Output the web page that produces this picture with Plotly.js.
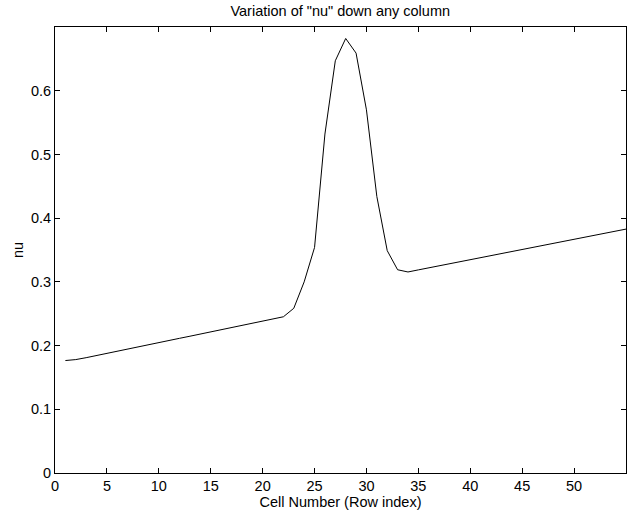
<!DOCTYPE html>
<html>
<head>
<meta charset="utf-8">
<script src="https://cdn.plot.ly/plotly-3.0.1.min.js"></script>
<style>html,body{margin:0;padding:0;background:#fff;}#chart{width:627px;height:516px;}</style>
</head>
<body>
<div id="chart"></div>
<script>
const cellNumber = [1,2,3,4,5,6,7,8,9,10,11,12,13,14,15,16,17,18,19,20,21,22,23,24,25,26,27,28,29,30,31,32,33,34,35,36,37,38,39,40,41,42,43,44,45,46,47,48,49,50,51,52,53,54,55];
const nuValues = [0.1765,0.178,0.181,0.1845,0.188,0.1913,0.1947,0.198,0.2013,0.2047,0.208,0.2114,0.2147,0.218,0.2214,0.2247,0.228,0.2314,0.2347,0.238,0.2415,0.2452,0.2585,0.300,0.354,0.532,0.647,0.682,0.659,0.570,0.434,0.349,0.319,0.3155,0.3188,0.322,0.3253,0.3285,0.3318,0.335,0.3383,0.3415,0.3448,0.348,0.3512,0.3544,0.3576,0.3608,0.364,0.3672,0.3704,0.3736,0.3767,0.3798,0.3828];
const xTicks = [0,5,10,15,20,25,30,35,40,45,50];
const yTicks = [0,0.1,0.2,0.3,0.4,0.5,0.6];
const yTickText = ['0','0.1','0.2','0.3','0.4','0.5','0.6'];

const font = {family: 'Liberation Sans, Arial, Helvetica, sans-serif', size: 14.5, color: '#000'};

Plotly.newPlot('chart', [{
  x: cellNumber, y: nuValues, type: 'scatter', mode: 'lines',
  line: {color: '#000', width: 1}, hoverinfo: 'skip'
}], {
  width: 627, height: 516,
  margin: {l: 55, r: 1, t: 27, b: 43, pad: 0},
  paper_bgcolor: '#fff', plot_bgcolor: '#fff',
  font: font,
  showlegend: false,
  title: {text: 'Variation of "nu" down any column', font: font, x: 0.5427, xanchor: 'center', y: 1 - 11/516, yref: 'container', yanchor: 'middle'},
  xaxis: {
    range: [0, 55], tickvals: xTicks, ticktext: xTicks.map(String),
    ticks: 'inside', ticklen: 5, tickcolor: '#000', tickwidth: 1,
    showline: true, linecolor: '#000', linewidth: 1, mirror: 'ticks',
    showgrid: false, zeroline: false, tickfont: font,
    title: {text: 'Cell Number (Row index)', font: font, standoff: 1}
  },
  yaxis: {
    range: [0, 0.7], tickvals: yTicks, ticktext: yTickText,
    ticks: 'inside', ticklen: 5, tickcolor: '#000', tickwidth: 1,
    showline: true, linecolor: '#000', linewidth: 1, mirror: 'ticks',
    showgrid: false, zeroline: false, tickfont: font,
    title: {text: 'nu', font: font, standoff: 3}
  }
}, {staticPlot: true, displayModeBar: false});
</script>
</body>
</html>
